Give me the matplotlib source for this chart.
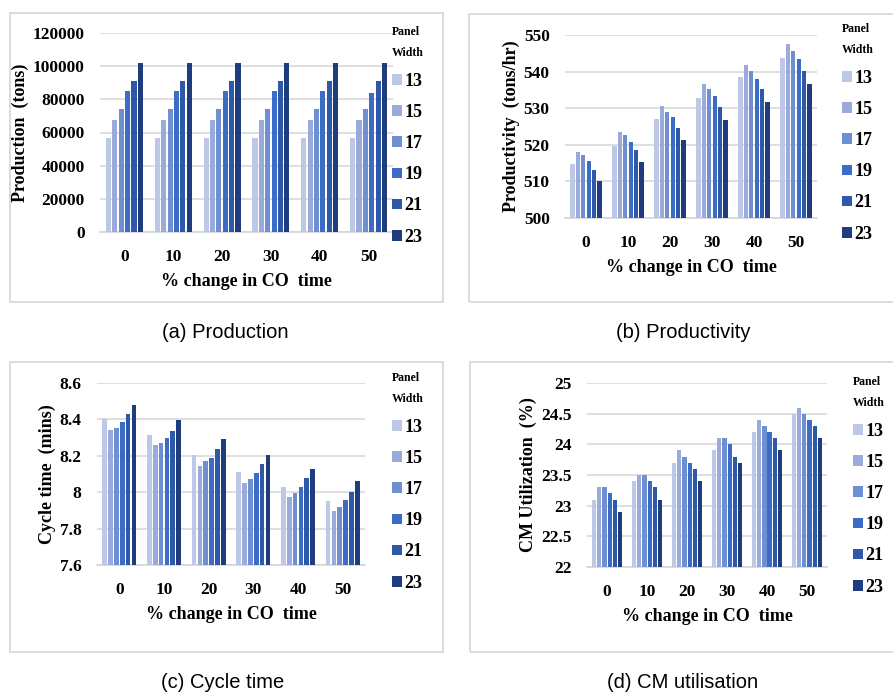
import numpy as np
import matplotlib
matplotlib.use('Agg')
import matplotlib.pyplot as plt
from matplotlib.patches import Rectangle

# data
co_change = ['0', '10', '20', '30', '40', '50']
panel_widths = ['13', '15', '17', '19', '21', '23']
colors = ['#bdc7e6', '#9aabdb', '#6f8fd3', '#3d6cc7', '#2e58a8', '#1e3c7e']

# rows = % change in CO time, cols = panel width
production = [
  [56500, 67300, 74400, 85000, 91200, 102000],
  [56500, 67300, 74400, 85000, 91200, 102000],
  [56500, 67300, 74400, 85000, 91200, 102000],
  [56500, 67300, 74400, 85000, 91200, 102000],
  [56500, 67300, 74400, 85000, 91200, 102000],
  [56500, 67300, 74400, 83800, 91200, 102000],
]
productivity = [
  [514.8, 518.0, 517.3, 515.6, 513.1, 510.0],
  [519.8, 523.4, 522.6, 520.9, 518.5, 515.2],
  [527.0, 530.7, 529.0, 527.5, 524.6, 521.3],
  [532.7, 536.5, 535.2, 533.2, 530.4, 526.7],
  [538.4, 541.7, 540.2, 538.1, 535.3, 531.6],
  [543.8, 547.6, 545.5, 543.5, 540.2, 536.5],
]
cycle_time = [
  [8.40, 8.34, 8.35, 8.385, 8.43, 8.48],
  [8.315, 8.257, 8.273, 8.30, 8.336, 8.396],
  [8.205, 8.145, 8.169, 8.187, 8.239, 8.292],
  [8.112, 8.05, 8.075, 8.103, 8.154, 8.205],
  [8.026, 7.972, 7.998, 8.026, 8.077, 8.128],
  [7.949, 7.897, 7.921, 7.956, 8.00, 8.06],
]
cm_util = [
  [23.1, 23.3, 23.3, 23.2, 23.1, 22.9],
  [23.4, 23.5, 23.5, 23.4, 23.3, 23.1],
  [23.7, 23.9, 23.8, 23.7, 23.6, 23.4],
  [23.9, 24.1, 24.1, 24.0, 23.8, 23.7],
  [24.2, 24.4, 24.3, 24.2, 24.1, 23.9],
  [24.5, 24.6, 24.5, 24.4, 24.3, 24.1],
]

W, H = 893, 695
SERIF = 'Liberation Serif'
SANS = 'Liberation Sans'

fig = plt.figure(figsize=(W / 100, H / 100), dpi=100)


def px_axes(left, top, right, bottom):
  return fig.add_axes([left / W, 1 - bottom / H, (right - left) / W, (bottom - top) / H])


def border(left, top, right, bottom):
  fig.add_artist(Rectangle((left / W, 1 - bottom / H), (right - left) / W, (bottom - top) / H,
                           transform=fig.transFigure, fill=False, edgecolor='#d6d6d6', lw=1.2))


def draw_panel(box, legend_xy, values, ylim, yticks, yfmt, ylabel, caption, cap_xy):
  border(*box['frame'])
  ax = px_axes(*box['axes'])
  data = np.array(values)
  x = np.arange(len(co_change))
  step = 0.13
  for i, pw in enumerate(panel_widths):
    ax.bar(x + (i - 2.5) * step, data[:, i], width=0.105, color=colors[i], label=pw,
           zorder=3)
  ax.set_xlim(-0.5, len(co_change) - 0.5)
  ax.set_ylim(*ylim)
  ax.set_yticks(yticks)
  ax.set_yticklabels([yfmt(v) for v in yticks])
  ax.set_xticks(x)
  ax.set_xticklabels(co_change)
  for s in ['top', 'right', 'left']:
    ax.spines[s].set_visible(False)
  ax.spines['bottom'].set_color('#d6d6d6')
  ax.spines['bottom'].set_linewidth(1.2)
  ax.grid(axis='y', color='#d9d9d9', lw=1.2, zorder=0)
  ax.tick_params(length=0, labelsize=12.5)
  ax.tick_params(axis='y', pad=11)
  ax.tick_params(axis='x', pad=12)
  for t in ax.get_xticklabels() + ax.get_yticklabels():
    t.set_fontfamily(SERIF)
    t.set_fontweight('bold')
  ax.set_xlabel('% change in CO  time', fontfamily=SERIF, fontweight='bold', fontsize=13,
                labelpad=6)
  ax.set_ylabel(ylabel, fontfamily=SERIF, fontweight='bold', fontsize=13, labelpad=3)
  leg = ax.legend(loc='upper left', bbox_to_anchor=(legend_xy[0] / W, 1 - legend_xy[1] / H),
                  bbox_transform=fig.transFigure, frameon=False, title='Panel\nWidth',
                  alignment='left', handlelength=0.55, handleheight=0.55, handletextpad=0.15,
                  labelspacing=0.78, borderaxespad=0, borderpad=0,
                  prop={'family': SERIF, 'weight': 'bold', 'size': 13})
  leg.get_title().set_fontfamily(SERIF)
  leg.get_title().set_fontweight('bold')
  leg.get_title().set_fontsize(8.5)
  leg.get_title().set_linespacing(2.0)
  fig.text(cap_xy[0] / W, 1 - cap_xy[1] / H, caption, fontfamily=SANS, fontsize=14.5,
           ha='center', va='center')
  return ax


draw_panel({'frame': (10, 13, 443, 302), 'axes': (100, 33, 393, 232)}, (392, 26),
           production, (0, 120000), np.arange(0, 120001, 20000), lambda v: '%d' % v,
           'Production  (tons)', '(a) Production', (225, 333))
draw_panel({'frame': (469, 14, 900, 302), 'axes': (565, 35, 817, 218)}, (842, 23),
           productivity, (500, 550), np.arange(500, 551, 10), lambda v: '%d' % v,
           'Productivity  (tons/hr)', '(b) Productivity', (683, 333))
draw_panel({'frame': (10, 362, 443, 652), 'axes': (97, 383, 365, 565)}, (392, 372),
           cycle_time, (7.6, 8.6), [7.6, 7.8, 8.0, 8.2, 8.4, 8.6], lambda v: ('%g' % v),
           'Cycle time  (mins)', '(c) Cycle time', (223, 683))
draw_panel({'frame': (470, 362, 900, 652), 'axes': (587, 383, 827, 567)}, (853, 376),
           cm_util, (22, 25), [22, 22.5, 23, 23.5, 24, 24.5, 25], lambda v: ('%g' % v),
           'CM Utilization  (%)', '(d) CM utilisation', (683, 683))

fig.savefig('out.png', dpi=100)
